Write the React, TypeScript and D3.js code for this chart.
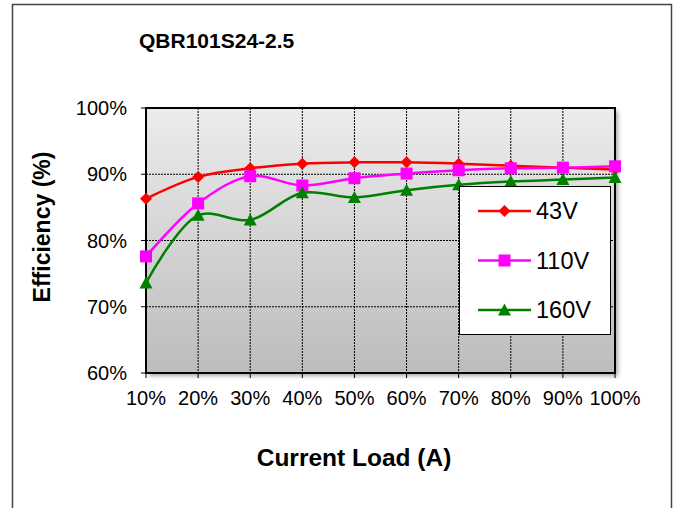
import React from 'react'
import * as d3 from 'd3'

const loads = [10, 20, 30, 40, 50, 60, 70, 80, 90, 100]
const eff43 = [86.3, 89.6, 90.9, 91.6, 91.8, 91.8, 91.6, 91.3, 91.0, 90.7]
const eff110 = [77.6, 85.6, 89.7, 88.3, 89.4, 90.1, 90.6, 90.9, 91.0, 91.2]
const eff160 = [73.6, 83.8, 83.1, 87.2, 86.5, 87.6, 88.4, 88.9, 89.2, 89.5]
const yTicks = [60, 70, 80, 90, 100]
const seriesNames = ['43V', '110V', '160V']

const W = 676
const H = 508
const left = 146
const right = 615
const top = 108
const bottom = 373

const x = d3.scaleLinear().domain([10, 100]).range([left, right])
const y = d3.scaleLinear().domain([60, 100]).range([bottom, top])

const line = d3
  .line<number>()
  .x((d, i) => x(loads[i]))
  .y((d) => y(d))
  .curve(d3.curveCatmullRom.alpha(0.5))

const series = [
  { name: seriesNames[0], values: eff43, color: '#ff0000', marker: 'diamond' },
  { name: seriesNames[1], values: eff110, color: '#ff00ff', marker: 'square' },
  { name: seriesNames[2], values: eff160, color: '#008000', marker: 'triangle' },
]

function Marker({ kind, cx, cy, color }: { kind: string; cx: number; cy: number; color: string }) {
  if (kind === 'diamond') {
    const r = 6
    return <path d={`M${cx},${cy - r}L${cx + r},${cy}L${cx},${cy + r}L${cx - r},${cy}Z`} fill={color} />
  }
  if (kind === 'square') {
    const s = 12
    return <rect x={cx - s / 2} y={cy - s / 2} width={s} height={s} fill={color} />
  }
  const h = 11
  return <path d={`M${cx},${cy - h / 2 - 1}L${cx + 6.5},${cy + h / 2}L${cx - 6.5},${cy + h / 2}Z`} fill={color} />
}

export default function App() {
  const font = 'Arial, "Liberation Sans", sans-serif'
  return (
    <div style={{ position: 'absolute', left: 0, top: 0 }}>
      <svg width={W} height={H} style={{ display: 'block', fontFamily: font }}>
        <defs>
          <linearGradient id="plotbg" x1="0" y1="0" x2="0" y2="1">
            <stop offset="0" stopColor="#ececec" />
            <stop offset="1" stopColor="#bcbcbc" />
          </linearGradient>
          <filter id="shadow" x="-5%" y="-5%" width="115%" height="115%">
            <feDropShadow dx="3" dy="3" stdDeviation="2" floodColor="#000" floodOpacity="0.35" />
          </filter>
        </defs>
        <rect x={0} y={0} width={W} height={H} fill="#fff" />
        {/* outer frame */}
        <path d={`M12.5,${H}L12.5,4.5L671.5,4.5L671.5,${H}`} fill="none" stroke="#444" strokeWidth={1.5} />

        <text x={139} y={48} fontSize={21} fontWeight="bold">QBR101S24-2.5</text>

        {/* plot area */}
        <rect x={left} y={top} width={right - left} height={bottom - top} fill="url(#plotbg)" filter="url(#shadow)" />
        {loads.slice(1, -1).map((l) => (
          <line key={'gx' + l} x1={x(l)} x2={x(l)} y1={top} y2={bottom} stroke="#000" strokeWidth={1} strokeDasharray="2 1" />
        ))}
        {yTicks.slice(1, -1).map((t) => (
          <line key={'gy' + t} x1={left} x2={right} y1={y(t)} y2={y(t)} stroke="#000" strokeWidth={1} strokeDasharray="2 1" />
        ))}
        <rect x={left} y={top} width={right - left} height={bottom - top} fill="none" stroke="#000" strokeWidth={2} />

        {/* ticks */}
        {yTicks.map((t) => (
          <g key={'yt' + t}>
            <line x1={left - 5} x2={left} y1={y(t)} y2={y(t)} stroke="#000" strokeWidth={1} />
            <text x={127} y={y(t) + 7} fontSize={20} textAnchor="end">{t}%</text>
          </g>
        ))}
        {loads.map((l) => (
          <g key={'xt' + l}>
            <line x1={x(l)} x2={x(l)} y1={bottom} y2={bottom + 5} stroke="#000" strokeWidth={1} />
            <text x={x(l)} y={405} fontSize={20} textAnchor="middle">{l}%</text>
          </g>
        ))}

        {/* series */}
        {series.map((s) => (
          <g key={s.name}>
            <path d={line(s.values) || ''} fill="none" stroke={s.color} strokeWidth={2.5} />
            {s.values.map((v, i) => (
              <Marker key={i} kind={s.marker} cx={x(loads[i])} cy={y(v)} color={s.color} />
            ))}
          </g>
        ))}

        {/* legend */}
        <rect x={459.5} y={186.5} width={151} height={148} fill="#fff" stroke="#000" strokeWidth={1} />
        {series.map((s, i) => {
          const ly = 211 + i * 49.5
          return (
            <g key={'lg' + s.name}>
              <line x1={478} x2={531} y1={ly} y2={ly} stroke={s.color} strokeWidth={2.5} />
              <Marker kind={s.marker} cx={504.5} cy={ly} color={s.color} />
              <text x={536} y={ly + 8} fontSize={23.5}>{s.name}</text>
            </g>
          )
        })}

        <text x={354} y={466} fontSize={24.5} fontWeight="bold" textAnchor="middle">Current Load (A)</text>
        <text transform="translate(50,227) rotate(-90)" fontSize={23} fontWeight="bold" textAnchor="middle">Efficiency (%)</text>
      </svg>
    </div>
  )
}
